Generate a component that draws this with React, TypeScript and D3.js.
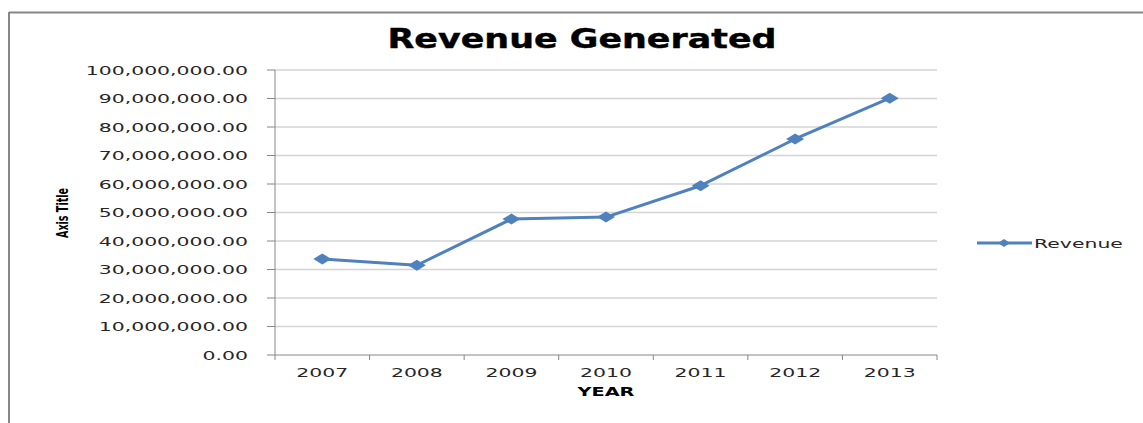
import React from "react";
import * as d3 from "d3";

const years = ["2007", "2008", "2009", "2010", "2011", "2012", "2013"];
const revenue = [33700000, 31500000, 47700000, 48400000, 59400000, 75800000, 90100000];
const yTicks = [0, 10000000, 20000000, 30000000, 40000000, 50000000, 60000000, 70000000, 80000000, 90000000, 100000000];
const seriesName = "Revenue";
const chartTitle = "Revenue Generated";
const xTitle = "YEAR";
const yTitle = "Axis Title";

const W = 1143;
const H = 423;
const left = 275;
const right = 937;
const top = 70;
const bottom = 355;
const SX = 1.57;
const color = "#4F81BD";
const font = "DejaVu Sans, Verdana, sans-serif";

const x = d3.scaleBand<string>().domain(years).range([left, right]).padding(0);
const y = d3.scaleLinear().domain([0, 100000000]).range([bottom, top]);
const fmt = d3.format(",.2f");

const diamond = (cx: number, cy: number, hw = 9, hh = 5.5) =>
  `M${cx - hw},${cy} L${cx},${cy - hh} L${cx + hw},${cy} L${cx},${cy + hh} Z`;

function SText({ x0, y0, anchor, size, weight, children }: any) {
  return (
    <text
      transform={`translate(${x0},${y0}) scale(${SX},1)`}
      textAnchor={anchor}
      fontSize={size}
      fontWeight={weight || "normal"}
      fontFamily={font}
      fill="#262626"
    >
      {children}
    </text>
  );
}

export default function App() {
  const line = d3
    .line<number>()
    .x((_, i) => (x(years[i]) as number) + x.bandwidth() / 2)
    .y((d) => y(d));

  return (
    <svg width={W} height={H} style={{ position: "absolute", left: 0, top: 0 }}>
      <rect x={0} y={0} width={W} height={H} fill="#fff" />
      {/* outer border */}
      <line x1={9} y1={12.5} x2={W} y2={12.5} stroke="#878787" strokeWidth={2} />
      <line x1={9} y1={12} x2={9} y2={H} stroke="#878787" strokeWidth={2} />

      {/* title */}
      <text
        x={582}
        y={48}
        textAnchor="middle"
        fontSize={26}
        fontWeight="bold"
        fontFamily={font}
        textLength={389}
        lengthAdjust="spacingAndGlyphs"
        fill="#000"
        stroke="#000"
        strokeWidth={0.4}
      >
        {chartTitle}
      </text>

      {/* gridlines + y ticks */}
      {yTicks.map((t) => (
        <g key={t}>
          {t > 0 && (
            <line x1={left} x2={right} y1={y(t)} y2={y(t)} stroke="#D4D4D4" strokeWidth={1.3} />
          )}
          <line x1={left - 8} x2={left} y1={y(t)} y2={y(t)} stroke="#868686" strokeWidth={1} />
          <SText x0={248} y0={y(t) + 4.5} anchor="end" size={13}>
            {fmt(t)}
          </SText>
        </g>
      ))}

      {/* axes */}
      <line x1={left} x2={left} y1={top} y2={bottom} stroke="#868686" strokeWidth={1} />
      <line x1={left} x2={right} y1={bottom} y2={bottom} stroke="#868686" strokeWidth={1} />
      {years.map((yr) => (
        <line
          key={"t" + yr}
          x1={x(yr) as number}
          x2={x(yr) as number}
          y1={bottom}
          y2={bottom + 5}
          stroke="#868686"
        />
      ))}
      <line x1={right} x2={right} y1={bottom} y2={bottom + 5} stroke="#868686" />
      {years.map((yr) => (
        <SText key={yr} x0={(x(yr) as number) + x.bandwidth() / 2} y0={377} anchor="middle" size={13}>
          {yr}
        </SText>
      ))}

      {/* axis titles */}
      <text
        x={606}
        y={396}
        textAnchor="middle"
        fontSize={13}
        fontWeight="bold"
        fontFamily={font}
        textLength={57}
        lengthAdjust="spacingAndGlyphs"
        fill="#000"
      >
        {xTitle}
      </text>
      <text
        transform="translate(68,213) rotate(-90)"
        textAnchor="middle"
        fontSize={16}
        fontWeight="bold"
        fontFamily={font}
        textLength={50}
        lengthAdjust="spacingAndGlyphs"
        fill="#000"
      >
        {yTitle}
      </text>

      {/* series */}
      <path d={line(revenue) || ""} fill="none" stroke={color} strokeWidth={3} strokeLinejoin="round" />
      {revenue.map((v, i) => (
        <path key={i} d={diamond((x(years[i]) as number) + x.bandwidth() / 2, y(v))} fill={color} />
      ))}

      {/* legend */}
      <line x1={977} x2={1032} y1={243} y2={243} stroke={color} strokeWidth={3} />
      <path d={diamond(1004, 243, 6, 4)} fill={color} />
      <SText x0={1034} y0={248} anchor="start" size={13}>
        {seriesName}
      </SText>
    </svg>
  );
}
